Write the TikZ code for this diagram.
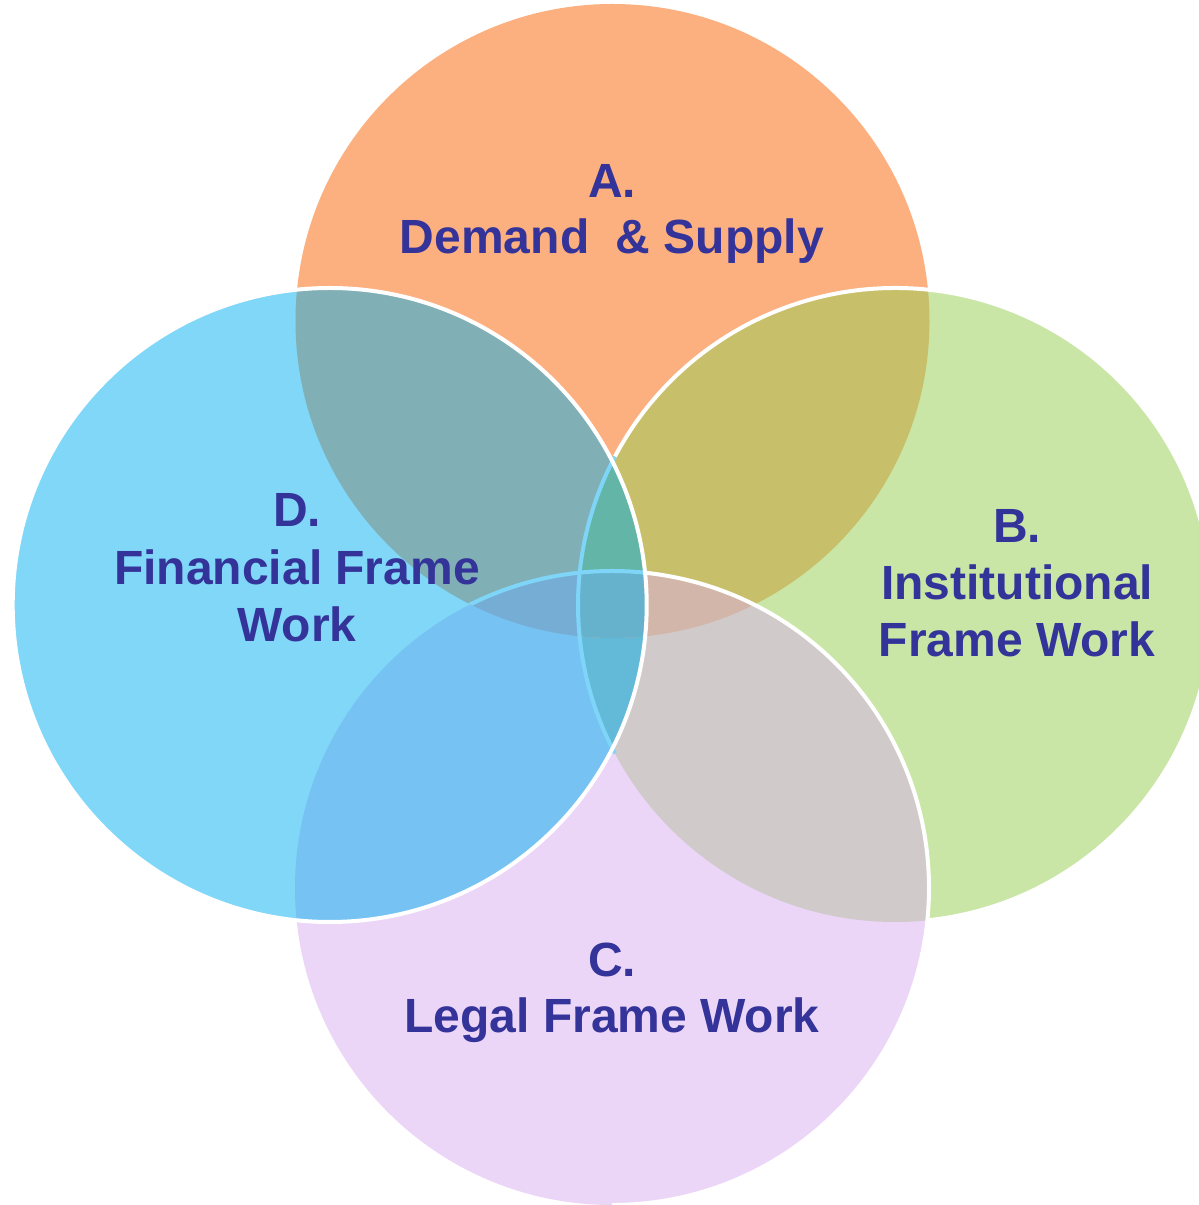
\documentclass[tikz,border=0pt]{standalone}
\usepackage{fontspec}
\setmainfont{Liberation Sans}
\usetikzlibrary{calc}
\definecolor{colA}{RGB}{253,176,127}
\definecolor{colB}{RGB}{201,230,166}
\definecolor{colC}{RGB}{236,214,247}
\definecolor{colD}{RGB}{128,215,248}
\definecolor{colAB}{RGB}{200,191,106}
\definecolor{colAD}{RGB}{128,175,181}
\definecolor{colBC}{RGB}{209,202,203}
\definecolor{colCD}{RGB}{118,195,243}
\definecolor{colABD}{RGB}{99,182,167}
\definecolor{colBCD}{RGB}{98,186,216}
\definecolor{colACD}{RGB}{118,173,212}
\definecolor{colABC}{RGB}{210,182,170}
\definecolor{colABCD}{RGB}{102,178,204}
\definecolor{lineblue}{RGB}{126,213,248}
\definecolor{txt}{RGB}{51,51,153}
\begin{document}
\begin{tikzpicture}[x=1pt,y=1pt,
  lab/.style={anchor=base,inner sep=0pt,text=txt,font=\fontsize{48}{57}\selectfont\bfseries},
  wborder/.style={draw=white,line width=4pt},
  bborder/.style={draw=lineblue,line width=4pt}]
\clip (0,0) rectangle (1199,1205);
\fill[white] (0,0) rectangle (1199,1205);
\def\R{317}
\coordinate (A) at (612.5,884);
\coordinate (B) at (895,600);
\coordinate (C) at (612,317);
\coordinate (D) at (329.7,600);
% single circles
\fill[colA] (A) circle[radius=\R];
\fill[colB] (B) circle[radius=\R];
\fill[colC] (C) circle[radius=\R];
\fill[colD] (D) circle[radius=\R];
% pairs
\begin{scope}\clip (A) circle[radius=\R]; \fill[colAB] (B) circle[radius=\R];\end{scope}
\begin{scope}\clip (A) circle[radius=\R]; \fill[colAD] (D) circle[radius=\R];\end{scope}
\begin{scope}\clip (B) circle[radius=\R]; \fill[colBC] (C) circle[radius=\R];\end{scope}
\begin{scope}\clip (C) circle[radius=\R]; \fill[colCD] (D) circle[radius=\R];\end{scope}
% triples
\begin{scope}\clip (A) circle[radius=\R]; \clip (B) circle[radius=\R]; \fill[colABD] (D) circle[radius=\R];\end{scope}
\begin{scope}\clip (B) circle[radius=\R]; \clip (C) circle[radius=\R]; \fill[colBCD] (D) circle[radius=\R];\end{scope}
\begin{scope}\clip (A) circle[radius=\R]; \clip (C) circle[radius=\R]; \fill[colACD] (D) circle[radius=\R];\end{scope}
\begin{scope}\clip (A) circle[radius=\R]; \clip (B) circle[radius=\R]; \fill[colABC] (C) circle[radius=\R];\end{scope}
% all four
\begin{scope}\clip (A) circle[radius=\R]; \clip (B) circle[radius=\R]; \clip (C) circle[radius=\R]; \fill[colABCD] (D) circle[radius=\R];\end{scope}
% borders
\draw[wborder] ($(B)+(-84.1:\R)$) arc[start angle=-84.1,end angle=152.1,radius=\R];
\draw[bborder] ($(B)+(152.1:\R)$) arc[start angle=152.1,end angle=207.9,radius=\R];
\draw[wborder] ($(C)+(-90:\R)$) arc[start angle=-90,end angle=84,radius=\R];
\begin{scope}
\clip (A) circle[radius=\R];
\draw[bborder] ($(C)+(84:\R)$) arc[start angle=84,end angle=140,radius=\R];
\end{scope}
\draw[wborder] (D) circle[radius=\R];
% labels
\node[lab] (a1) at (612,1007) {A.};
\node[lab] (a2) at (612,951) {Demand~~\& Supply};
\node[lab] (b1) at (1017,662) {B.};
\node[lab] (b2) at (1017,605) {Institutional};
\node[lab] (b3) at (1017,548) {Frame Work};
\node[lab] (c1) at (612,228) {C.};
\node[lab] (c2) at (612,172) {Legal Frame Work};
\node[lab] (d1) at (297,678) {D.};
\node[lab] (d2) at (297,620) {Financial Frame};
\node[lab] (d3) at (297,563) {Work};
\end{tikzpicture}
\end{document}
